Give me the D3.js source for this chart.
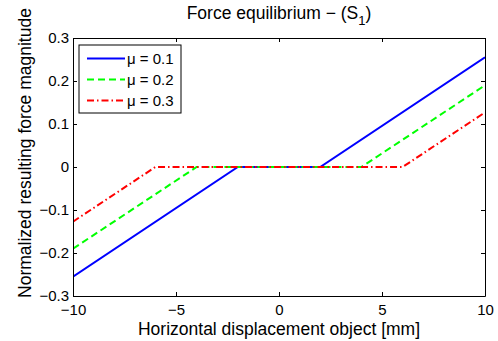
<!DOCTYPE html>
<html>
<head>
<meta charset="utf-8">
<script src="https://cdn.jsdelivr.net/npm/d3@7"></script>
<style>
  body { margin: 0; background: #fff; }
  text { font-family: "Liberation Sans", Arial, sans-serif; }
</style>
</head>
<body>
<div id="container"></div>
<script>
/* CONSTANTS AND GLOBALS */
const width = 498,
  height = 341,
  margin = { top: 38, bottom: 45, left: 73, right: 13 }

/* DATA */
const xPoints = [-10, -2, 2, 10]
const mu1 = [-0.255, 0, 0, 0.255]
const xPoints2 = [-10, -4, 4, 10]
const mu2 = [-0.19, 0, 0, 0.19]
const xPoints3 = [-10, -6, 6, 10]
const mu3 = [-0.127, 0, 0, 0.127]
const seriesNames = ["μ = 0.1", "μ = 0.2", "μ = 0.3"]
const xTicks = [-10, -5, 0, 5, 10]
const yTicks = [-0.3, -0.2, -0.1, 0, 0.1, 0.2, 0.3]

const series = [
  { name: seriesNames[0], xs: xPoints, ys: mu1, color: "#0000ff", dash: null },
  { name: seriesNames[1], xs: xPoints2, ys: mu2, color: "#00ff00", dash: "7,4" },
  { name: seriesNames[2], xs: xPoints3, ys: mu3, color: "#ff0000", dash: "7,3,1.5,3" }
]

const svg = d3.select("#container")
  .append("svg")
  .attr("width", width)
  .attr("height", height)

const xScale = d3.scaleLinear()
  .domain([-10, 10])
  .range([margin.left, width - margin.right])

const yScale = d3.scaleLinear()
  .domain([-0.3, 0.3])
  .range([height - margin.bottom, margin.top])

const fmt = d => d === 0 ? "0" : (d < 0 ? "\u2212" + d3.format("")(Math.abs(d)) : d3.format("")(d))

// lines
const line = d3.line()
  .x(d => xScale(d[0]))
  .y(d => yScale(d[1]))

svg.append("defs").append("clipPath").attr("id", "clip")
  .append("rect")
  .attr("x", margin.left).attr("y", margin.top)
  .attr("width", width - margin.left - margin.right)
  .attr("height", height - margin.top - margin.bottom)

svg.append("g")
  .attr("clip-path", "url(#clip)")
  .selectAll("path.series")
  .data(series)
  .join("path")
  .attr("class", "series")
  .attr("d", s => line(s.xs.map((x, i) => [x, s.ys[i]])))
  .attr("fill", "none")
  .attr("stroke", s => s.color)
  .attr("stroke-width", 2)
  .attr("stroke-dasharray", s => s.dash)

// axes (MATLAB-style box with inner ticks)
const xAxis = d3.axisBottom(xScale).tickValues(xTicks).tickSizeInner(-4).tickSizeOuter(0).tickPadding(8).tickFormat(fmt)
svg.append("g")
  .attr("class", "x-axis")
  .attr("transform", `translate(0, ${height - margin.bottom})`)
  .call(xAxis)

const xTop = d3.axisTop(xScale).tickValues(xTicks).tickSizeInner(-4).tickSizeOuter(0).tickFormat("")
svg.append("g")
  .attr("transform", `translate(0, ${margin.top})`)
  .call(xTop)

const yAxis = d3.axisLeft(yScale).tickValues(yTicks).tickSizeInner(-4).tickSizeOuter(0).tickPadding(4).tickFormat(fmt)
svg.append("g")
  .attr("class", "y-axis")
  .attr("transform", `translate(${margin.left}, 0)`)
  .call(yAxis)

const yRight = d3.axisRight(yScale).tickValues(yTicks).tickSizeInner(-4).tickSizeOuter(0).tickFormat("")
svg.append("g")
  .attr("transform", `translate(${width - margin.right}, 0)`)
  .call(yRight)

svg.selectAll(".domain").attr("stroke", "#000").attr("stroke-width", 1)
svg.selectAll(".tick line").attr("stroke", "#000")
svg.selectAll(".tick text")
  .attr("font-size", 15)
  .attr("fill", "#000")
  .style("font-family", "Liberation Sans, Arial, sans-serif")

// labels
svg.append("text")
  .attr("x", (margin.left + width - margin.right) / 2)
  .attr("y", 335)
  .attr("text-anchor", "middle")
  .attr("font-size", 17.5)
  .text("Horizontal displacement object [mm]")

svg.append("text")
  .attr("transform", `translate(${31}, ${153}) rotate(-90)`)
  .attr("text-anchor", "middle")
  .attr("font-size", 17.5)
  .text("Normalized resulting force magnitude")

const title = svg.append("text")
  .attr("x", (margin.left + width - margin.right) / 2)
  .attr("y", 19)
  .attr("text-anchor", "middle")
  .attr("font-size", 17.5)
title.append("tspan").text("Force equilibrium \u2212 (S")
title.append("tspan").attr("font-size", 13).attr("dy", 6).text("1")
title.append("tspan").attr("dy", -6).text(")")

// legend
const legend = svg.append("g").attr("transform", "translate(79, 45)")
legend.append("rect")
  .attr("width", 102).attr("height", 68)
  .attr("fill", "#fff").attr("stroke", "#000").attr("stroke-width", 1)

const items = legend.selectAll("g.item")
  .data(series)
  .join("g")
  .attr("class", "item")
  .attr("transform", (d, i) => `translate(0, ${13.5 + i * 21})`)

items.append("line")
  .attr("x1", 8).attr("x2", 46)
  .attr("stroke", d => d.color)
  .attr("stroke-width", 2)
  .attr("stroke-dasharray", d => d.dash)

items.append("text")
  .attr("x", 48).attr("y", 5.5)
  .attr("font-size", 15)
  .text(d => d.name)
</script>
</body>
</html>
